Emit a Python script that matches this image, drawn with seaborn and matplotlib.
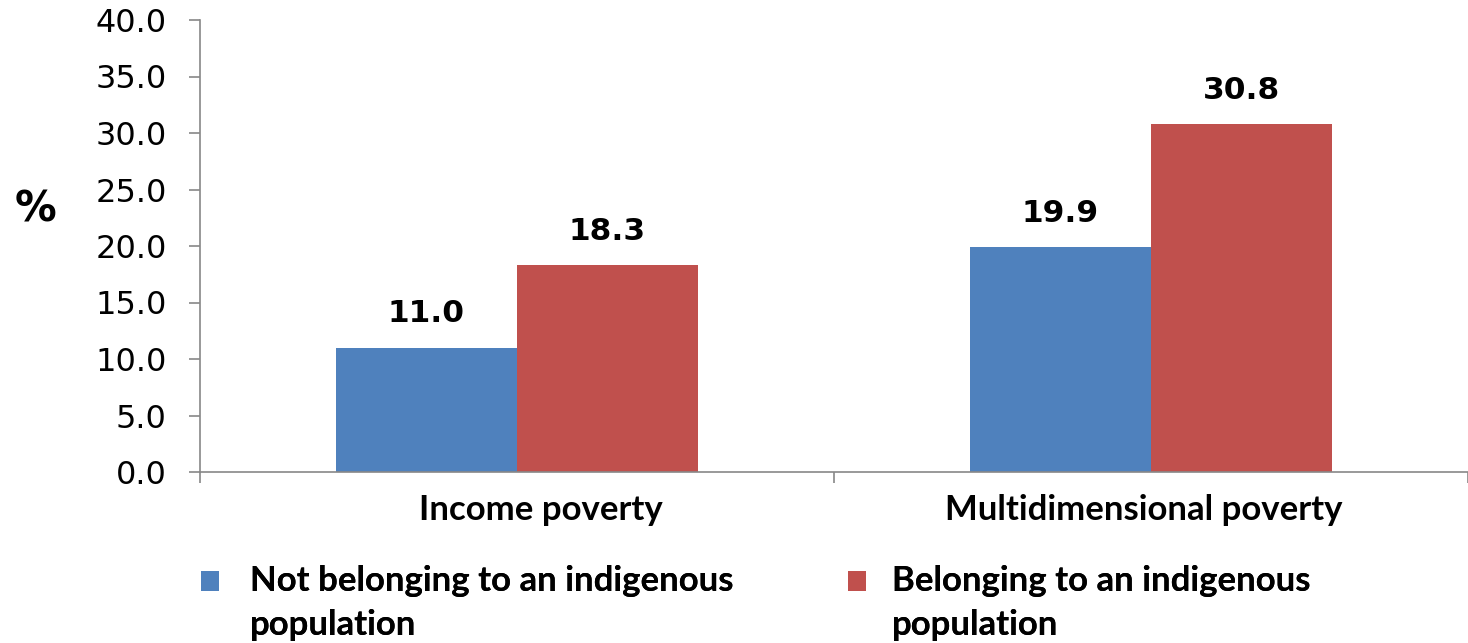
import numpy as np
import pandas as pd
import matplotlib
matplotlib.use("Agg")
import matplotlib.pyplot as plt
import matplotlib.transforms as mtransforms
from matplotlib.patches import Patch, Rectangle
from matplotlib.legend_handler import HandlerPatch
import seaborn as sns

# data
categories = ["Income poverty", "Multidimensional poverty"]
groups = ["Not belonging to an indigenous\npopulation", "Belonging to an indigenous\npopulation"]
not_indigenous = [11.0, 19.9]
indigenous = [18.3, 30.8]
colors = ["#4F81BD", "#C0504D"]
yticks = [0, 5, 10, 15, 20, 25, 30, 35, 40]

df = pd.DataFrame({
    "category": categories * 2,
    "group": [groups[0]] * 2 + [groups[1]] * 2,
    "value": not_indigenous + indigenous,
})

sns.set_style("white", rc={"text.color": "black"})
label_font = "Lato"
gray = "#888888"


# legend square sits next to the first line of the label, not centred
class TopSquare(HandlerPatch):
    def create_artists(self, legend, orig_handle, xdescent, ydescent,
                       width, height, fontsize, trans):
        r = Rectangle((-xdescent, -ydescent + 16.5), width, height,
                      facecolor=orig_handle.get_facecolor(), edgecolor="none",
                      transform=trans)
        return [r]


fig = plt.figure(figsize=(14.68, 6.43), dpi=100)
W, H = 1468, 643
ax = fig.add_axes([200 / W, 1 - 472 / H, 1268 / W, 452 / H])

sns.barplot(data=df, x="category", y="value", hue="group", palette=colors,
            width=0.571, saturation=1, linewidth=0, ax=ax, legend=False)

ax.set_xlim(-0.5, 1.5)
ax.set_ylim(0, 40)
ax.set_yticks(yticks)
ax.set_yticklabels([f"{v:.1f}" for v in yticks], fontsize=23, family="DejaVu Sans")
ax.set_xlabel("")
ax.set_ylabel("")

for s in ["top", "right"]:
    ax.spines[s].set_visible(False)
for s in ["left", "bottom"]:
    ax.spines[s].set_color(gray)
    ax.spines[s].set_linewidth(1.2)

ax.tick_params(axis="y", length=8, width=1.2, color=gray, labelcolor="black",
               direction="out", pad=16, left=True)
ax.set_xticks([0, 1])
ax.set_xticklabels(categories, fontsize=25, fontweight="bold", family=label_font)
ax.tick_params(axis="x", which="major", length=0, pad=16, labelcolor="black")
ax.set_xticks([-0.5, 0.5, 1.5], minor=True)
ax.tick_params(axis="x", which="minor", length=8, width=1.2, color=gray,
               direction="out", bottom=True)

# the original labels are not quite centred under their groups
for lab, dx in zip(ax.get_xticklabels(), [24, -7]):
    lab.set_transform(lab.get_transform() + mtransforms.Affine2D().translate(dx, 0))

for cont in ax.containers:
    ax.bar_label(cont, fmt="%.1f", padding=14, fontsize=22.5, fontweight="bold",
                 family="DejaVu Sans", color="black")

fig.text(36 / W, 1 - 210 / H, "%", fontsize=30, fontweight="bold",
         family="DejaVu Sans", ha="center", va="center", color="black")

# legend, one block per group
legend_x = [201 / W, 848 / W]
text_pads = [0.9, 0.75]
for i in range(2):
    leg = fig.legend(handles=[Patch(facecolor=colors[i])], labels=[groups[i]],
                     handler_map={Patch: TopSquare()},
                     loc="upper left", bbox_to_anchor=(legend_x[i], 1 - 565 / H),
                     frameon=False, handlelength=0.52, handleheight=0.52,
                     handletextpad=text_pads[i], borderaxespad=0, borderpad=0,
                     prop={"family": label_font, "weight": "bold", "size": 25})
    for t in leg.get_texts():
        t.set_linespacing(1.45)
        t.set_color("black")
    fig.add_artist(leg)

fig.savefig("out.png", dpi=100)
